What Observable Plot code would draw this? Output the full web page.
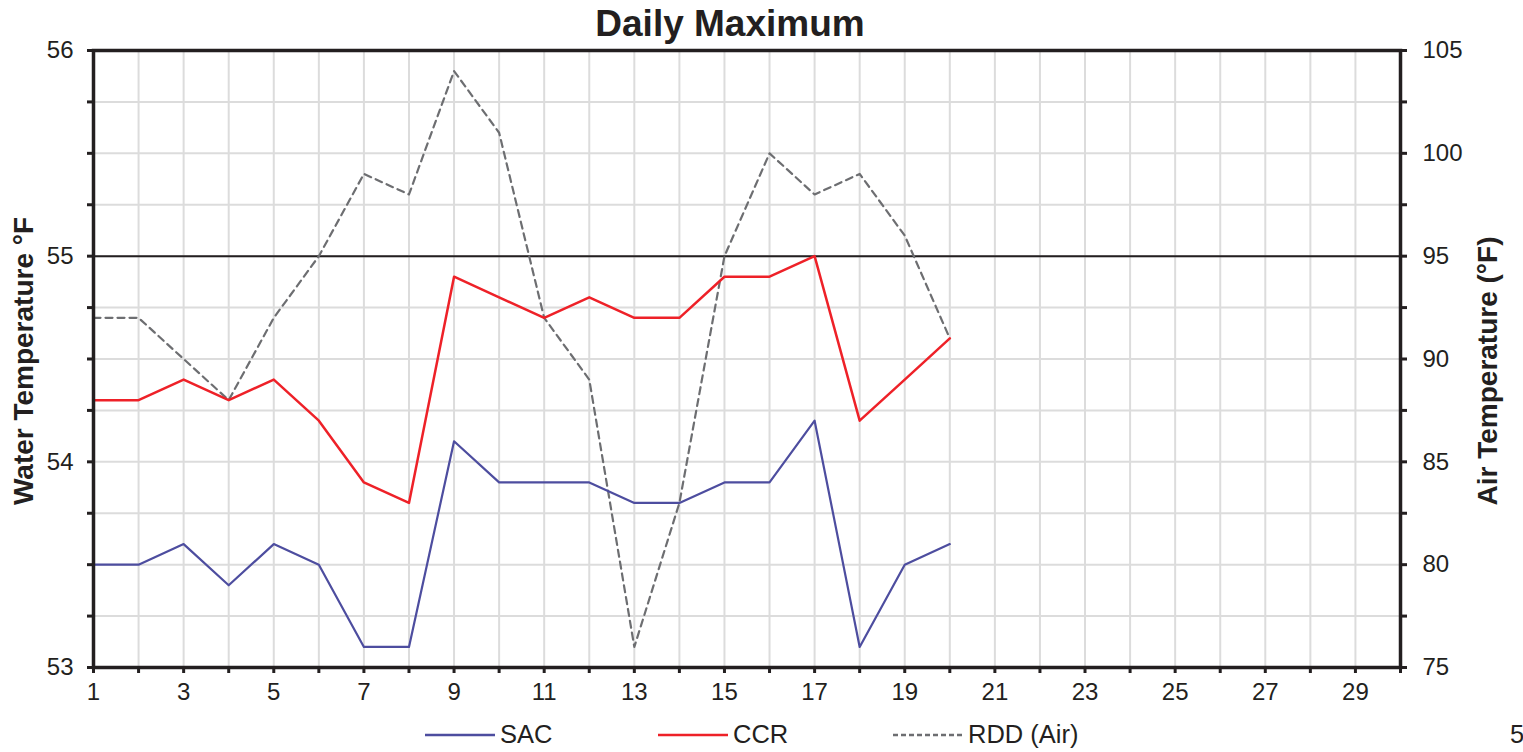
<!DOCTYPE html>
<html>
<head>
<meta charset="utf-8">
<script src="https://cdn.jsdelivr.net/npm/d3@7"></script>
<script src="https://cdn.jsdelivr.net/npm/@observablehq/plot@0.6"></script>
<style>
  html, body { margin: 0; padding: 0; background: #fff; }
  body { width: 1523px; height: 752px; position: relative; overflow: hidden;
         font-family: "Liberation Sans", Arial, Helvetica, sans-serif; color: #231f20; }
  #chart { position: absolute; left: 0; top: 0; }
  #title { position: absolute; top: 3px; left: 0; width: 1460px; text-align: center;
           font-weight: bold; font-size: 37px; }
  .leg { position: absolute; top: 720px; display: flex; align-items: center; font-size: 25.5px; }
  .leg svg { margin-right: 5px; }
  #page { position: absolute; left: 1510px; top: 720px; font-size: 25.5px; }
</style>
</head>
<body>
<div id="chart"></div>
<div id="title">Daily Maximum</div>
<div id="legend"></div>
<div id="page">5</div>
<script>
const days = d3.range(1, 21);
const sac = [53.5, 53.5, 53.6, 53.4, 53.6, 53.5, 53.1, 53.1, 54.1, 53.9, 53.9, 53.9, 53.8, 53.8, 53.9, 53.9, 54.2, 53.1, 53.5, 53.6];
const ccr = [54.3, 54.3, 54.4, 54.3, 54.4, 54.2, 53.9, 53.8, 54.9, 54.8, 54.7, 54.8, 54.7, 54.7, 54.9, 54.9, 55.0, 54.2, 54.4, 54.6];
const rddAir = [92, 92, 90, 88, 92, 95, 99, 98, 104, 101, 92, 89, 76, 83, 95, 100, 98, 99, 96, 91];
const seriesNames = ["SAC", "CCR", "RDD (Air)"];
const seriesColors = ["#4d4d9f", "#ee2128", "#6d6e71"];
const waterDomain = [53, 56];
const airDomain = [75, 105];
const threshold = 55;

// map air temperature onto the water (left) scale for the secondary axis
const airToWater = v => waterDomain[0] + (v - airDomain[0]) * (waterDomain[1] - waterDomain[0]) / (airDomain[1] - airDomain[0]);
const waterToAir = w => Math.round((airDomain[0] + (w - waterDomain[0]) * (airDomain[1] - airDomain[0]) / (waterDomain[1] - waterDomain[0])) * 10) / 10;

const table = days.map((d, i) => ({day: d, sac: sac[i], ccr: ccr[i], rdd: airToWater(rddAir[i])}));
const yTicks = d3.range(0, 13).map(i => waterDomain[0] + i * 0.25);
const xTicks = d3.range(1, 31);
const ink = "#231f20";

const chart = Plot.plot({
  width: 1523,
  height: 715,
  marginLeft: 93,
  marginRight: 123,
  marginTop: 50,
  marginBottom: 48,
  x: {domain: [1, 30]},
  y: {domain: waterDomain},
  style: {fontFamily: '"Liberation Sans", Arial, Helvetica, sans-serif', fontSize: "24px", color: ink, background: "white", overflow: "visible"},
  marks: [
    Plot.gridX(d3.range(2, 30), {stroke: "#dcdcdc", strokeOpacity: 1, strokeWidth: 2}),
    Plot.gridY(yTicks.slice(1, -1), {stroke: "#dcdcdc", strokeOpacity: 1, strokeWidth: 2}),
    Plot.ruleY([threshold], {stroke: ink, strokeWidth: 2}),
    Plot.line(table, {x: "day", y: "rdd", stroke: seriesColors[2], strokeWidth: 2.2, strokeDasharray: "7,5"}),
    Plot.line(table, {x: "day", y: "sac", stroke: seriesColors[0], strokeWidth: 2.2}),
    Plot.line(table, {x: "day", y: "ccr", stroke: seriesColors[1], strokeWidth: 2.5}),
    Plot.frame({stroke: ink, strokeWidth: 3.5}),
    Plot.axisY(yTicks, {anchor: "left", tickSize: 6, strokeWidth: 3, tickPadding: 14, label: null,
      tickFormat: d => Number.isInteger(d) ? String(d) : ""}),
    Plot.axisY(yTicks, {anchor: "right", tickSize: 6, strokeWidth: 3, tickPadding: 16, label: null,
      tickFormat: d => { const v = waterToAir(d); return v % 5 === 0 ? String(v) : ""; }}),
    Plot.axisX(xTicks, {anchor: "bottom", tickSize: 6, strokeWidth: 3, tickPadding: 9, label: null,
      tickFormat: d => d % 2 === 1 ? String(d) : ""}),
    Plot.text(["Water Temperature °F"], {frameAnchor: "left", dx: -69, dy: 2, rotate: -90, textAnchor: "middle", fontWeight: "bold", fontSize: 28, fill: ink}),
    Plot.text(["Air Temperature (°F)"], {frameAnchor: "right", dx: 88, dy: 12, rotate: -90, textAnchor: "middle", fontWeight: "bold", fontSize: 28, fill: ink})
  ]
});
document.getElementById("chart").appendChild(chart);

// legend
const legend = document.getElementById("legend");
const legendLeft = [425, 658, 893];
seriesNames.forEach((name, i) => {
  const div = document.createElement("div");
  div.className = "leg";
  div.style.left = legendLeft[i] + "px";
  const dash = i === 2 ? 'stroke-dasharray="5,3"' : "";
  div.innerHTML = `<svg width="70" height="10"><line x1="0" x2="70" y1="5" y2="5" stroke="${seriesColors[i]}" stroke-width="2.5" ${dash}/></svg><span>${name}</span>`;
  legend.appendChild(div);
});
</script>
</body>
</html>
